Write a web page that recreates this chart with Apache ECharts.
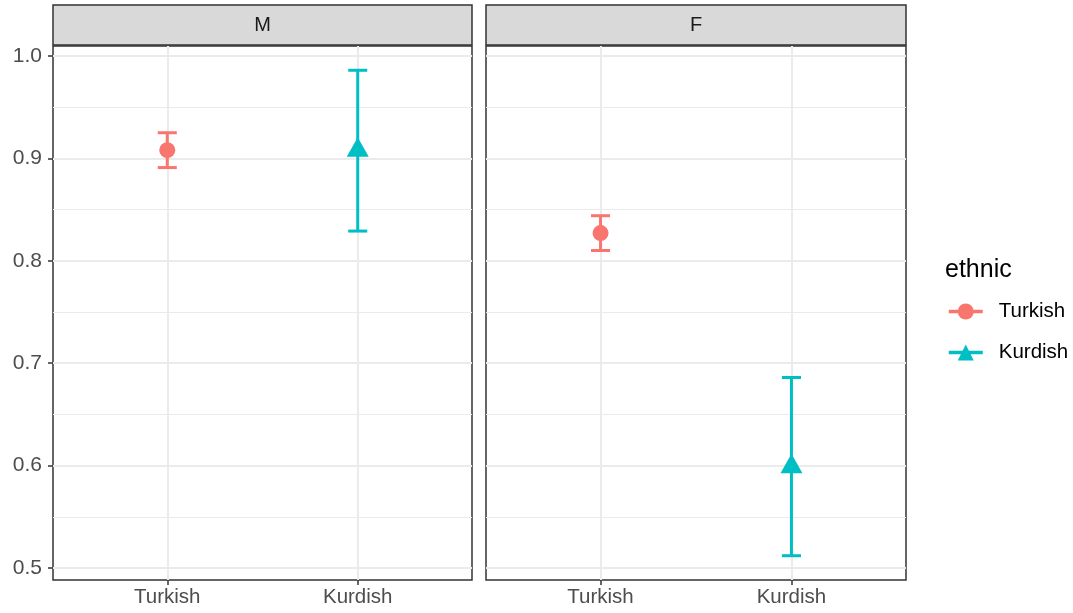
<!DOCTYPE html>
<html><head><meta charset="utf-8">
<script src="https://cdn.jsdelivr.net/npm/echarts@6/dist/echarts.min.js"></script>
<style>html,body{margin:0;padding:0;background:#fff}#c{width:1073px;height:613px}</style>
</head><body><div id="c"></div>
<script>
// ---- data ----
const categories = ['Turkish', 'Kurdish'];
const panels = ['M', 'F'];
const turkishMean  = [0.908, 0.827];
const turkishLower = [0.891, 0.810];
const turkishUpper = [0.925, 0.844];
const kurdishMean  = [0.908, 0.599];
const kurdishLower = [0.829, 0.512];
const kurdishUpper = [0.986, 0.686];
const yTicks = [0.5, 0.6, 0.7, 0.8, 0.9, 1.0];
const yMinor = [0.55, 0.65, 0.75, 0.85, 0.95];
const xTicks = [1, 2];
const legendTitle = 'ethnic';

// ---- styles ----
const colors = { Turkish: '#F8766D', Kurdish: '#00BFC4' };
const FONT = 'Liberation Sans, Arial, Helvetica, sans-serif';
const yRange = [0.4883, 1.0097];
const xRange = [0.4, 2.6];
const gridPos = [
  { left: 53, top: 46, width: 419, height: 534 },
  { left: 486, top: 46, width: 420, height: 534 }
];

const groups = [
  { name: 'Turkish', x: 1, mean: turkishMean, lower: turkishLower, upper: turkishUpper, symbol: 'circle', size: 16, offset: [0, 0] },
  { name: 'Kurdish', x: 2, mean: kurdishMean, lower: kurdishLower, upper: kurdishUpper, symbol: 'triangle', size: [22, 19.5], offset: [0, -3.2] }
];

const grids = gridPos.map(p => Object.assign({ show: true, borderColor: '#333333', borderWidth: 1.5, backgroundColor: '#fff', containLabel: false }, p));

const xAxes = panels.map((p, i) => ({
  type: 'value', gridIndex: i, min: xRange[0], max: xRange[1],
  axisLine: { show: false },
  axisTick: { show: true, length: 5, lineStyle: { color: '#333333', width: 1.5 }, customValues: xTicks },
  axisLabel: { show: true, customValues: xTicks, margin: 7, color: '#4D4D4D', fontSize: 20.5, fontFamily: FONT,
    formatter: v => categories[Math.round(v) - 1] || '' },
  splitLine: { show: false }
}));

const yAxes = panels.map((p, i) => ({
  type: 'value', gridIndex: i, min: yRange[0], max: yRange[1],
  axisLine: { show: false },
  axisTick: { show: i === 0, length: 5, lineStyle: { color: '#333333', width: 1.5 }, customValues: yTicks },
  axisLabel: { show: i === 0, customValues: yTicks, margin: 11, color: '#4D4D4D', fontSize: 21, fontFamily: FONT,
    formatter: v => v.toFixed(1) },
  splitLine: { show: false }
}));

const series = [];
panels.forEach((p, i) => {
  // gridlines
  const ml = [];
  yMinor.forEach(v => ml.push({ yAxis: v, lineStyle: { color: '#EBEBEB', width: 1, type: 'solid' } }));
  yTicks.forEach(v => ml.push({ yAxis: v, lineStyle: { color: '#EBEBEB', width: 2, type: 'solid' } }));
  xTicks.forEach(v => ml.push({ xAxis: v, lineStyle: { color: '#EBEBEB', width: 2, type: 'solid' } }));
  series.push({
    type: 'scatter', xAxisIndex: i, yAxisIndex: i, data: [], z: 1, silent: true,
    markLine: { silent: true, z: 1, symbol: ['none', 'none'], label: { show: false }, animation: false, data: ml }
  });
  groups.forEach(g => {
    // error bars
    series.push({
      type: 'custom', xAxisIndex: i, yAxisIndex: i, z: 10, silent: true,
      itemStyle: { color: colors[g.name] },
      data: [[g.x, g.lower[i], g.upper[i]]],
      renderItem: (params, api) => {
        const x = api.value(0);
        const lo = api.coord([x, api.value(1)]);
        const hi = api.coord([x, api.value(2)]);
        const half = api.size([0.1, 0])[0] / 2;
        const st = { stroke: colors[g.name], lineWidth: 3 };
        return { type: 'group', children: [
          { type: 'line', shape: { x1: lo[0], y1: lo[1], x2: hi[0], y2: hi[1] }, style: st },
          { type: 'line', shape: { x1: lo[0] - half, y1: lo[1], x2: lo[0] + half, y2: lo[1] }, style: st },
          { type: 'line', shape: { x1: hi[0] - half, y1: hi[1], x2: hi[0] + half, y2: hi[1] }, style: st }
        ]};
      }
    });
    // points
    series.push({
      type: 'line', name: g.name, xAxisIndex: i, yAxisIndex: i, z: 11,
      data: [[g.x, g.mean[i]]],
      symbol: g.symbol, symbolSize: g.size, symbolOffset: g.offset, showSymbol: true,
      itemStyle: { color: colors[g.name] },
      lineStyle: { color: colors[g.name], width: 3 },
      animation: false
    });
  });
});

const graphics = [];
panels.forEach((p, i) => {
  const gp = gridPos[i];
  graphics.push({ type: 'rect', shape: { x: gp.left, y: 5, width: gp.width, height: 40 },
    style: { fill: '#D9D9D9', stroke: '#333333', lineWidth: 1.5 } });
  graphics.push({ type: 'text', x: gp.left + gp.width / 2, y: 25,
    style: { text: p, fill: '#1A1A1A', fontSize: 20, fontFamily: FONT, align: 'center', verticalAlign: 'middle' } });
});

const chart = echarts.init(document.getElementById('c'), null, { renderer: 'canvas' });
chart.setOption({
  animation: false,
  backgroundColor: '#fff',
  title: { text: legendTitle, left: 940, top: 253, textStyle: { fontSize: 25, fontWeight: 'normal', color: '#000', fontFamily: FONT } },
  legend: {
    orient: 'vertical', left: 942, top: 296, itemWidth: 34, itemHeight: 20, itemGap: 20,
    lineStyle: { width: 3.5 },
    textStyle: { fontSize: 20.5, color: '#000', fontFamily: FONT, padding: [0, 0, 0, 11] },
    data: categories.slice(),
    selectedMode: false
  },
  graphic: graphics,
  grid: grids,
  xAxis: xAxes,
  yAxis: yAxes,
  series: series
});
</script></body></html>
